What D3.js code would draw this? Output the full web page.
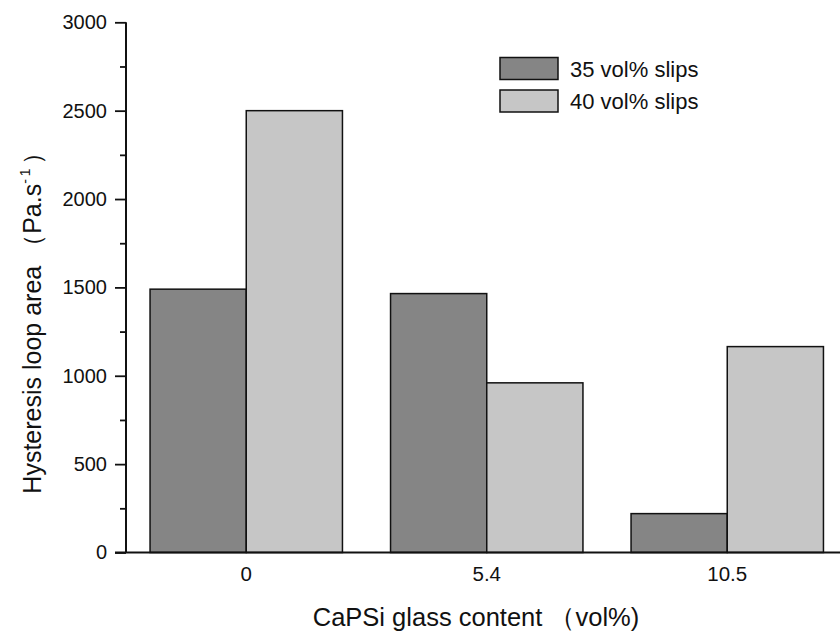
<!DOCTYPE html>
<html>
<head>
<meta charset="utf-8">
<script src="https://cdn.jsdelivr.net/npm/d3@7/dist/d3.min.js"></script>
<style>
  html, body { margin: 0; padding: 0; background: #fff; }
  svg { display: block; font-family: "Liberation Sans", Arial, sans-serif; }
</style>
</head>
<body>
<svg id="chart" width="840" height="634"></svg>
<script>
// Glass content groups (vol%) and hysteresis loop areas per slip loading
const categories = ["0", "5.4", "10.5"];
const seriesNames = ["35 vol% slips", "40 vol% slips"];
const slips35 = [1490, 1465, 220];
const slips40 = [2500, 960, 1165];
const yMajorTicks = [0, 500, 1000, 1500, 2000, 2500, 3000];
const yMinorTicks = [250, 750, 1250, 1750, 2250, 2750];

const seriesValues = [slips35, slips40];
const fills = ["#858585", "#c6c6c6"];

const svg = d3.select("#chart");
const W = 840, H = 634;
const x0 = 126, yBottom = 552.5, yTop = 22.3;

const y = d3.scaleLinear().domain([0, 3000]).range([yBottom, yTop]);
const x = d3.scaleBand().domain(categories).range([x0, 847.5])
  .paddingInner(0.2).paddingOuter(0.1);
const xs = d3.scaleBand().domain(d3.range(seriesNames.length)).range([0, x.bandwidth()]);

const rows = categories.map((c, i) => ({
  cat: c,
  vals: seriesValues.map((s, k) => ({ k, v: s[i] }))
}));

// bars
const groups = svg.append("g").selectAll("g").data(rows).join("g")
  .attr("transform", d => `translate(${x(d.cat)},0)`);
groups.selectAll("rect").data(d => d.vals).join("rect")
  .attr("x", d => xs(d.k))
  .attr("y", d => y(d.v))
  .attr("width", xs.bandwidth())
  .attr("height", d => y(0) - y(d.v))
  .attr("fill", d => fills[d.k])
  .attr("stroke", "#111")
  .attr("stroke-width", 1.5);

// y axis: major ticks with labels, minor ticks without
const yAxis = svg.append("g").attr("transform", `translate(${x0},0)`)
  .call(d3.axisLeft(y).tickValues(yMajorTicks).tickSize(11).tickPadding(8).tickFormat(d3.format("d")));
svg.append("g").attr("transform", `translate(${x0},0)`)
  .call(d3.axisLeft(y).tickValues(yMinorTicks).tickSize(6).tickFormat(""))
  .call(g => g.select(".domain").remove());
svg.selectAll(".tick line").attr("stroke", "#111").attr("stroke-width", 1.8);
yAxis.select(".domain").attr("d", `M0,${yTop}V${yBottom}`).attr("stroke", "#111").attr("stroke-width", 2);
yAxis.selectAll("text").attr("font-size", 20).attr("fill", "#111")
  .attr("font-family", "Liberation Sans, Arial, sans-serif");

// x axis: baseline and category labels
const xAxis = svg.append("g").attr("transform", `translate(0,${yBottom})`)
  .call(d3.axisBottom(x).tickSize(0).tickPadding(14));
xAxis.select(".domain").attr("d", `M${x0 - 11},0H${W}`).attr("stroke", "#111").attr("stroke-width", 2);
xAxis.selectAll("text").attr("font-size", 20.5).attr("fill", "#111")
  .attr("font-family", "Liberation Sans, Arial, sans-serif");

// axis titles
svg.append("text")
  .attr("x", 476).attr("y", 626)
  .attr("text-anchor", "middle")
  .attr("font-size", 25.5).attr("fill", "#111")
  .text("CaPSi glass content （vol%)");

const yt = svg.append("text")
  .attr("transform", "translate(41,317) rotate(-90)")
  .attr("text-anchor", "middle")
  .attr("font-size", 25).attr("fill", "#111");
yt.append("tspan").text("Hysteresis loop area （Pa.s");
yt.append("tspan").attr("dy", -11).attr("font-size", 14).attr("letter-spacing", 3).text("-1");
yt.append("tspan").attr("dy", 11).text("）");

// legend
const legend = svg.append("g").attr("transform", "translate(500,57.5)");
const items = legend.selectAll("g").data(seriesNames).join("g")
  .attr("transform", (d, i) => `translate(0,${i * 32.5})`);
items.append("rect")
  .attr("width", 58).attr("height", 22)
  .attr("fill", (d, i) => fills[i])
  .attr("stroke", "#111").attr("stroke-width", 1.5);
items.append("text")
  .attr("x", 70).attr("y", 19)
  .attr("font-size", 22).attr("fill", "#111")
  .text(d => d);
</script>
</body>
</html>
